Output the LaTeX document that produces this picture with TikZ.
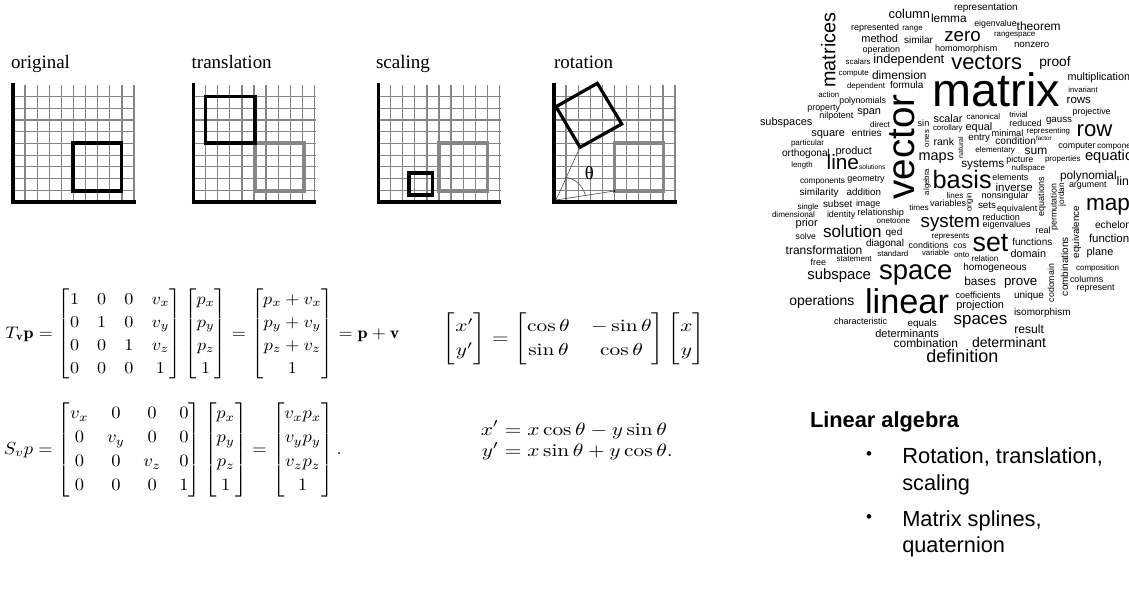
\documentclass[tikz,border=0pt]{standalone}
\usepackage{amsmath}
\usepackage{fontspec}
\newfontfamily\arialf{Liberation Sans}
\newfontfamily\serf{Liberation Serif}
\newcount\wn
\tikzset{
  wordnode/.style={inner sep=0pt,outer sep=0pt,anchor=base west,text=black},
  eqnode/.style={inner sep=0pt,outer sep=0pt,anchor=center},
  gridv/.style={draw=black!48,line width=1.3pt},
  gridh/.style={draw=black!48,line width=1.1pt},
  axisline/.style={draw=black,line width=3.6pt},
  blacksq/.style={draw=black,line width=3.2pt,line join=miter},
  graysq/.style={draw=black!47,line width=3.2pt,line join=miter},
  thinl/.style={draw=black!70,line width=0.6pt}
}
% fitted word: left, baseline, width in px
\newcommand{\fitword}[4]{\global\advance\wn by 1
  \node[wordnode,name=w\the\wn] at (#1,#2) {\resizebox{#3pt}{!}{\fontsize{20}{24}\selectfont #4}};}
% word-cloud words, coordinates as in the two crops
\newcommand{\wordA}[4]{\pgfmathsetmacro\wl{750+#1/3}\pgfmathsetmacro\wb{#2/3}\pgfmathsetmacro\ww{(#3-#1)/3}\fitword{\wl}{\wb}{\ww}{\arialf #4}}
\newcommand{\wordB}[4]{\pgfmathsetmacro\wl{750+#1/3}\pgfmathsetmacro\wb{180+#2/3}\pgfmathsetmacro\ww{(#3-#1)/3}\fitword{\wl}{\wb}{\ww}{\arialf #4}}
\newcommand{\wordUp}[4]{\global\advance\wn by 1\pgfmathsetmacro\ww{#2-#3}
  \node[wordnode,rotate=90,name=w\the\wn] at (#1,#2) {\resizebox{\ww pt}{!}{\fontsize{20}{24}\selectfont\arialf #4}};}
% plot panel
\newcommand{\panel}[1]{
  \foreach \k in {1,...,10} \draw[gridv] ({#1+12.1*\k},85) -- ({#1+12.1*\k},202);
  \foreach \j in {0,...,8} \draw[gridh] (#1,{96.7+11.67*\j}) -- ({#1+122},{96.7+11.67*\j});
  \draw[axisline] (#1,83) -- (#1,203.5);
  \draw[axisline] ({#1-1.8},202) -- ({#1+122.5},202);
}
\begin{document}
\begin{tikzpicture}[x=1pt,y=-1pt]
\useasboundingbox (0,0) rectangle (1129,589);
% panels
\panel{13}
\panel{193.5}
\panel{378.5}
\panel{554}
\draw[blacksq] (73,143) rectangle (121.7,191);
\draw[graysq] (255,143) rectangle (304,191);
\draw[blacksq] (205.7,96.3) rectangle (255,143);
\draw[graysq] (439,143) rectangle (487.7,191);
\draw[blacksq] (409,173) rectangle (432.3,195);
\draw[graysq] (614.3,143) rectangle (663.3,191);
\coordinate (rA) at (556,106.7);
\coordinate (rB) at (597.3,83.3);
\coordinate (rC) at (621.7,124);
\coordinate (rD) at (580,147.3);
\coordinate (rO) at (556,200);
\coordinate (rE) at (614.3,191);
\draw[blacksq] (rA) -- (rB) -- (rC) -- (rD) -- cycle;
\draw[thinl] (rO) -- (rD);
\draw[thinl] (rO) -- (rE);
\draw[thinl] (565,177.3) .. controls (575,178) and (583,186) .. (585.7,196);
\fill[black] (rE) circle (1pt);
\node[eqnode] (theta) at (589.3,172.7) {\resizebox{9pt}{13pt}{\fontsize{15}{15}\selectfont\serf θ}};
% panel titles
\fitword{11}{68}{59}{\serf original}
\fitword{191.7}{68}{80}{\serf translation}
\fitword{376}{68}{54}{\serf scaling}
\fitword{554}{68}{59}{\serf rotation}
% equations
\def\arraystretch{1.15}
\setlength{\jot}{0pt}
\node[eqnode] (eqT) at (202.5,334) {\resizebox*{394pt}{92pt}{$T_{\mathbf v}\mathbf p=\begin{bmatrix}1&0&0&v_x\\0&1&0&v_y\\0&0&1&v_z\\0&0&0&1\end{bmatrix}\begin{bmatrix}p_x\\p_y\\p_z\\1\end{bmatrix}=\begin{bmatrix}p_x+v_x\\p_y+v_y\\p_z+v_z\\1\end{bmatrix}=\mathbf p+\mathbf v$}};
\node[eqnode] (eqS) at (172.8,449.7) {\resizebox*{338pt}{96pt}{$S_vp=\begin{bmatrix}v_x&0&0&0\\0&v_y&0&0\\0&0&v_z&0\\0&0&0&1\end{bmatrix}\begin{bmatrix}p_x\\p_y\\p_z\\1\end{bmatrix}=\begin{bmatrix}v_xp_x\\v_yp_y\\v_zp_z\\1\end{bmatrix}.$}};
\node[eqnode] (eqR) at (574,339) {\resizebox*{262pt}{52pt}{$\begin{bmatrix}x'\\y'\end{bmatrix}=\begin{bmatrix}\cos\theta&-\sin\theta\\\sin\theta&\cos\theta\end{bmatrix}\begin{bmatrix}x\\y\end{bmatrix}$}};
\node[eqnode] (eqX) at (576.8,441.5) {\resizebox*{192pt}{43pt}{$\begin{aligned}x'&=x\cos\theta-y\sin\theta\\y'&=x\sin\theta+y\cos\theta.\end{aligned}$}};
% linear algebra text
\fitword{810}{427}{149}{\arialf\bfseries Linear algebra}
\fitword{902.3}{463}{200.7}{\arialf Rotation, translation,}
\fitword{902.3}{490.7}{67.7}{\arialf scaling}
\fitword{902.3}{526.7}{139.4}{\arialf Matrix splines,}
\fitword{902.3}{552.7}{102.7}{\arialf quaternion}
\node[eqnode] (b1) at (869,456) {\fontsize{17}{17}\selectfont\arialf •};
\node[eqnode] (b2) at (869,519) {\fontsize{17}{17}\selectfont\arialf •};
% word cloud, upper part
\wordA{612}{30}{803}{representation}
\wordA{416}{57}{540}{column}
\wordA{543}{68}{650}{lemma}
\wordA{303}{90}{447}{represented}
\wordA{457}{92}{518}{range}
\wordA{673}{80}{800}{eigenvalue}
\wordA{800}{90}{932}{theorem}
\wordA{732}{110}{856}{rangespace}
\wordA{334}{126}{444}{method}
\wordA{462}{130}{549}{similar}
\wordA{583}{125}{692}{zero}
\wordA{792}{142}{898}{nonzero}
\wordA{338}{158}{450}{operation}
\wordA{555}{155}{742}{homomorphism}
\wordA{287}{193}{362}{scalars}
\wordA{370}{191}{583}{independent}
\wordA{604}{208}{816}{vectors}
\wordA{868}{198}{962}{proof}
\wordA{266}{226}{356}{compute}
\wordA{366}{238}{530}{dimension}
\wordA{291}{265}{405}{dependent}
\wordA{420}{266}{520}{formula}
\wordA{953}{240}{1140}{multiplication}
\wordA{955}{277}{1043}{invariant}
\wordA{548}{320}{930}{matrix}
\wordA{205}{293}{268}{action}
\wordA{268}{310}{408}{polynomials}
\wordA{950}{310}{1023}{rows}
\wordA{172}{330}{270}{property}
\wordA{322}{343}{393}{span}
\wordA{968}{342}{1082}{projective}
\wordA{208}{356}{310}{nilpotent}
\wordA{30}{375}{187}{subspaces}
\wordA{360}{382}{420}{direct}
\wordA{503}{378}{538}{sin}
\wordA{551}{366}{637}{scalar}
\wordA{650}{358}{750}{canonical}
\wordA{778}{352}{833}{trivial}
\wordA{778}{378}{875}{reduced}
\wordA{888}{368}{966}{gauss}
\wordA{549}{390}{638}{corollary}
\wordA{647}{390}{727}{equal}
\wordA{980}{408}{1087}{row}
\wordA{830}{400}{960}{representing}
\wordA{725}{409}{820}{minimal}
\wordA{184}{408}{285}{square}
\wordA{305}{408}{395}{entries}
\wordA{551}{436}{612}{rank}
\wordA{655}{421}{720}{entry}
\wordA{858}{420}{905}{factor}
\wordA{736}{433}{858}{condition}
\wordA{123}{435}{222}{particular}
\wordA{925}{445}{1037}{computer}
\wordA{1042}{445}{1175}{components}
\wordA{96}{470}{240}{orthogonal}
\wordA{257}{462}{366}{product}
\wordA{824}{462}{892}{sum}
\wordA{676}{458}{795}{elementary}
\wordA{506}{482}{612}{maps}
\wordA{1005}{482}{1196}{equations}
\wordA{634}{501}{763}{systems}
\wordA{769}{487}{850}{picture}
\wordA{885}{485}{992}{properties}
\wordA{785}{510}{885}{nullspace}
\wordA{124}{503}{188}{length}
\wordA{230}{507}{327}{line}
\wordA{327}{508}{406}{solutions}
\wordA{930}{537}{1100}{polynomial}
\wordA{1100}{555}{1190}{linear}
\wordA{957}{562}{1070}{argument}
\wordA{150}{550}{285}{components}
\wordA{292}{545}{404}{geometry}
\wordA{727}{540}{835}{elements}
% word cloud, lower part
\wordB{548}{26}{725}{basis}
\wordB{737}{33}{848}{inverse}
\wordB{149}{47}{266}{similarity}
\wordB{290}{47}{393}{addition}
\wordB{143}{88}{206}{single}
\wordB{219}{82}{307}{subset}
\wordB{318}{80}{391}{image}
\wordB{590}{55}{640}{lines}
\wordB{695}{54}{836}{nonsingular}
\wordB{540}{78}{648}{variables}
\wordB{478}{90}{536}{times}
\wordB{684}{85}{738}{sets}
\wordB{741}{95}{862}{equivalent}
\wordB{66}{112}{195}{dimensional}
\wordB{231}{112}{316}{identity}
\wordB{323}{107}{462}{relationship}
\wordB{137}{140}{203}{prior}
\wordB{512}{142}{690}{system}
\wordB{698}{122}{810}{reduction}
\wordB{698}{143}{842}{eigenvalues}
\wordB{380}{131}{480}{onetoone}
\wordB{137}{178}{198}{solve}
\wordB{219}{172}{395}{solution}
\wordB{407}{165}{457}{qed}
\wordB{545}{176}{658}{represents}
\wordB{857}{160}{902}{real}
\wordB{1035}{145}{1143}{echelon}
\wordB{1008}{90}{1140}{map}
\wordB{1017}{187}{1155}{functions}
\wordB{787}{195}{907}{functions}
\wordB{348}{200}{462}{diagonal}
\wordB{476}{205}{596}{conditions}
\wordB{610}{205}{650}{cos}
\wordB{668}{215}{775}{set}
\wordB{107}{222}{337}{transformation}
\wordB{382}{230}{475}{standard}
\wordB{516}{226}{598}{variable}
\wordB{612}{232}{658}{onto}
\wordB{782}{232}{888}{domain}
\wordB{665}{244}{745}{relation}
\wordB{260}{245}{365}{statement}
\wordB{182}{255}{228}{free}
\wordB{1010}{225}{1090}{plane}
\wordB{172}{297}{363}{subspace}
\wordB{387}{297}{607}{space}
\wordB{640}{272}{830}{homogeneous}
\wordB{978}{270}{1107}{composition}
\wordB{643}{315}{738}{bases}
\wordB{762}{315}{862}{prove}
\wordB{960}{308}{1060}{columns}
\wordB{980}{332}{1094}{represent}
\wordB{118}{375}{313}{operations}
\wordB{345}{400}{597}{linear}
\wordB{617}{356}{752}{coefficients}
\wordB{792}{355}{882}{unique}
\wordB{619}{385}{762}{projection}
\wordB{792}{406}{962}{isomorphism}
\wordB{611}{433}{772}{spaces}
\wordB{252}{432}{411}{characteristic}
\wordB{473}{438}{560}{equals}
\wordB{376}{472}{567}{determinants}
\wordB{793}{460}{882}{result}
\wordB{431}{502}{624}{combination}
\wordB{666}{502}{888}{determinant}
\wordB{529}{546}{745}{definition}
% vertical words
\wordUp{835.3}{87.5}{12.7}{matrices}
\wordUp{914}{199.5}{94.3}{vector}
\wordUp{929}{147}{130}{ones}
\wordUp{929}{195}{169}{algebra}
\wordUp{963}{158}{136.7}{natural}
\wordUp{971.7}{211.7}{192.7}{origin}
\wordUp{1044}{216}{177}{equations}
\wordUp{1056.7}{230.7}{184}{permutation}
\wordUp{1064}{206}{183}{jordan}
\wordUp{1079}{258}{206}{equivalence}
\wordUp{1068}{296}{237}{combinations}
\wordUp{1054}{302}{264}{codomain}
\end{tikzpicture}
\end{document}
